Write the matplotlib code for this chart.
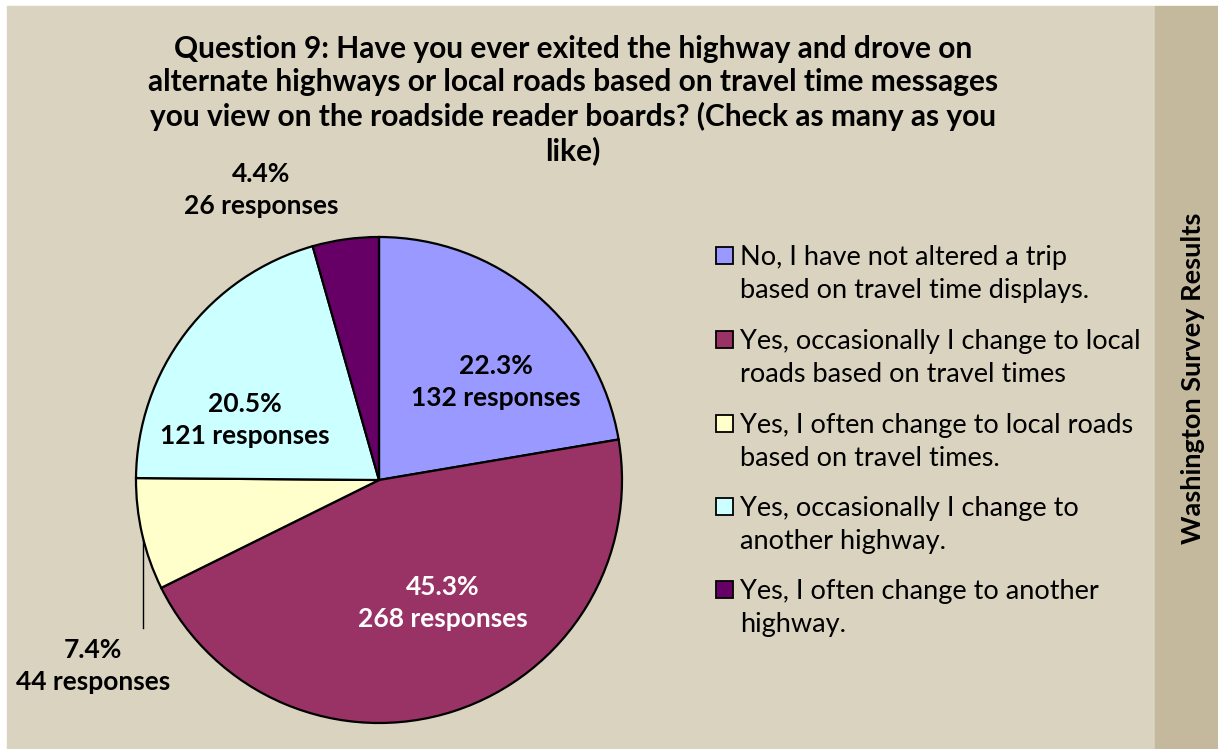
import matplotlib.pyplot as plt
from matplotlib.patches import Rectangle

# survey data
answers = [
    "No, I have not altered a trip\nbased on travel time displays.",
    "Yes, occasionally I change to local\nroads based on travel times",
    "Yes, I often change to local roads\nbased on travel times.",
    "Yes, occasionally I change to\nanother highway.",
    "Yes, I often change to another\nhighway.",
]
responses = [132, 268, 44, 121, 26]
colors = ["#9999FF", "#993366", "#FFFFCC", "#CCFFFF", "#660066"]

title = ("Question 9: Have you ever exited the highway and drove on\n"
         "alternate highways or local roads based on travel time messages\n"
         "you view on the roadside reader boards? (Check as many as you\n"
         "like)")

W, H = 1218, 749
plt.rcParams["font.family"] = ["Lato", "DejaVu Sans"]

fig = plt.figure(figsize=(W / 100, H / 100), dpi=100, facecolor="white")


def fx(px):
    return px / W


def fy(py):
    return 1 - py / H


# background panels
fig.patches.append(Rectangle((fx(7), fy(749)), fx(1155) - fx(7), fy(6) - fy(749),
                             transform=fig.transFigure, color="#D9D3C0", zorder=-2))
fig.patches.append(Rectangle((fx(1155), fy(749)), fx(1218) - fx(1155), fy(6) - fy(749),
                             transform=fig.transFigure, color="#C4B99D", zorder=-2))

# pie
cx, cy, r = 379, 480, 243
ax = fig.add_axes([fx(cx - r), fy(cy + r), 2 * r / W, 2 * r / H])
ax.set_facecolor("none")
wedges, _ = ax.pie(responses, colors=colors, startangle=90, counterclock=False,
                   wedgeprops=dict(edgecolor="black", linewidth=1.6))
ax.set_xlim(-1, 1)
ax.set_ylim(-1, 1)
ax.axis("off")

total = sum(responses)
label_pos = [(496, 382), (443, 603), (93, 666), (245, 420), (261, 190)]
label_colors = ["black", "white", "black", "black", "black"]
for n, (lx, ly), c in zip(responses, label_pos, label_colors):
    pct = 100 * n / total
    fig.text(fx(lx), fy(ly), f"{pct:.1f}%\n{n} responses", ha="center", va="center",
             fontsize=19, fontweight="bold", color=c, linespacing=1.38)

# leader line for the small yellow slice
fig.add_artist(plt.Line2D([fx(143), fx(143)], [fy(540), fy(628)],
                          transform=fig.transFigure, color="black", linewidth=1))

fig.text(fx(573), fy(100), title, ha="center", va="center", fontsize=21.5,
         fontweight="bold", linespacing=1.22)

# legend
legend_y = [274, 358, 442, 525, 608]
for label, c, ly in zip(answers, colors, legend_y):
    fig.patches.append(Rectangle((fx(716), fy(ly - 10)), 17 / W, 17 / H,
                                 transform=fig.transFigure, facecolor=c,
                                 edgecolor="black", linewidth=1.3))
    fig.text(fx(740), fy(ly), label, ha="left", va="center", fontsize=19.5,
             linespacing=1.42)

fig.text(fx(1193), fy(378), "Washington Survey Results", rotation=90, ha="center",
         va="center", fontsize=19.5, fontweight="bold")

fig.savefig("out.png", dpi=100, facecolor="white")
